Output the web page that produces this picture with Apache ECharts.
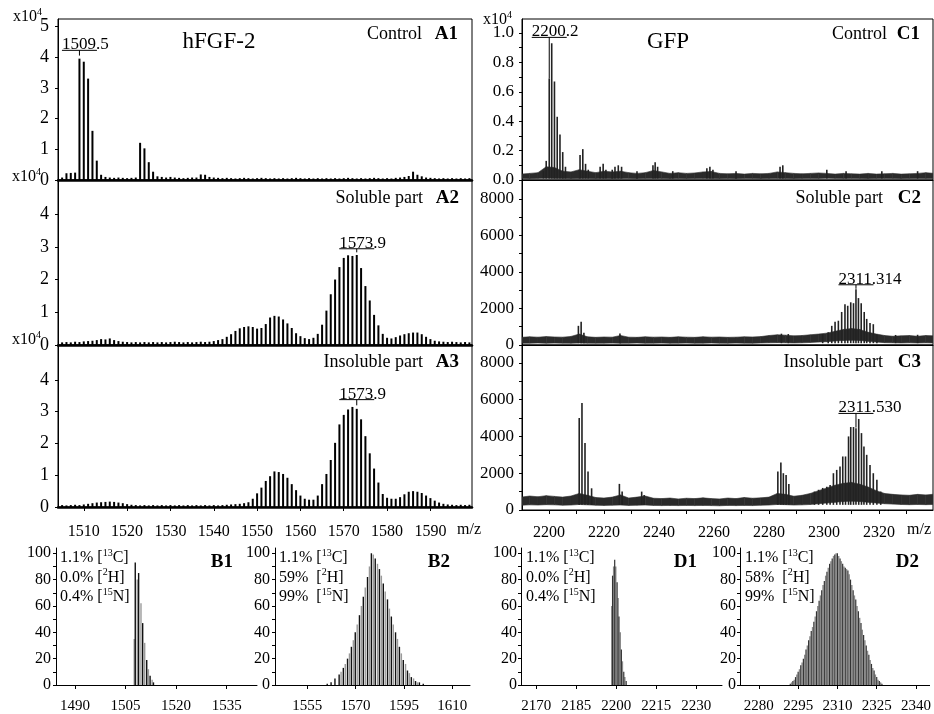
<!DOCTYPE html>
<html>
<head>
<meta charset="utf-8">
<script src="https://cdn.jsdelivr.net/npm/echarts@6/dist/echarts.min.js"></script>
<style>
  html, body { margin: 0; padding: 0; background: #fff; }
  #chart { width: 934px; height: 714px; }
</style>
</head>
<body>
<div id="chart"></div>
<script>
const FONT = '"Liberation Serif", "Times New Roman", serif';

// hFGF-2 spectra, intensity x10^4, one stick per m/z unit starting at aStartMz
const aStartMz = 1504;
const a1Control = [
  0.06, 0.08, 0.22, 0.23, 0.24, 3.95, 3.85, 3.30, 1.60, 0.63,
  0.17, 0.10, 0.08, 0.07, 0.08, 0.07, 0.06, 0.07, 0.08, 1.21,
  1.03, 0.58, 0.27, 0.12, 0.10, 0.08, 0.10, 0.08, 0.07, 0.06,
  0.07, 0.08, 0.08, 0.18, 0.17, 0.10, 0.08, 0.07, 0.06, 0.07,
  0.06, 0.05, 0.06, 0.07, 0.06, 0.05, 0.06, 0.07, 0.06, 0.05,
  0.06, 0.05, 0.06, 0.05, 0.06, 0.07, 0.06, 0.05, 0.06, 0.05,
  0.06, 0.05, 0.06, 0.05, 0.06, 0.05, 0.06, 0.07, 0.06, 0.05,
  0.06, 0.05, 0.06, 0.07, 0.06, 0.05, 0.06, 0.05, 0.07, 0.08,
  0.10, 0.13, 0.27, 0.17, 0.12, 0.08, 0.07, 0.06, 0.05, 0.06,
  0.05, 0.06, 0.05, 0.06, 0.05, 0.06
];
const a2Soluble = [
  0.09, 0.08, 0.09, 0.08, 0.10, 0.09, 0.11, 0.12, 0.13, 0.15,
  0.18, 0.17, 0.20, 0.15, 0.12, 0.10, 0.09, 0.08, 0.09, 0.08,
  0.09, 0.08, 0.09, 0.08, 0.09, 0.08, 0.09, 0.10, 0.09, 0.08,
  0.09, 0.08, 0.09, 0.10, 0.09, 0.10, 0.12, 0.15, 0.18, 0.25,
  0.33, 0.43, 0.51, 0.55, 0.57, 0.55, 0.50, 0.52, 0.64, 0.84,
  0.89, 0.87, 0.78, 0.66, 0.52, 0.36, 0.27, 0.21, 0.18, 0.22,
  0.34, 0.62, 1.05, 1.55, 2.00, 2.38, 2.66, 2.74, 2.72, 2.75,
  2.35, 1.80, 1.36, 0.92, 0.60, 0.34, 0.22, 0.20, 0.24, 0.29,
  0.33, 0.36, 0.38, 0.38, 0.33, 0.25, 0.18, 0.13, 0.11, 0.10,
  0.09, 0.10, 0.09, 0.08, 0.09, 0.08
];
const a3Insoluble = [
  0.05, 0.06, 0.05, 0.06, 0.07, 0.06, 0.08, 0.10, 0.12, 0.14,
  0.15, 0.16, 0.17, 0.16, 0.14, 0.12, 0.09, 0.07, 0.06, 0.05,
  0.06, 0.05, 0.06, 0.05, 0.06, 0.05, 0.06, 0.05, 0.06, 0.05,
  0.06, 0.05, 0.06, 0.05, 0.06, 0.05, 0.06, 0.05, 0.06, 0.07,
  0.08, 0.09, 0.10, 0.12, 0.15, 0.26, 0.43, 0.61, 0.82, 0.97,
  1.12, 1.10, 1.04, 0.92, 0.72, 0.53, 0.36, 0.26, 0.23, 0.23,
  0.36, 0.72, 1.04, 1.48, 2.02, 2.60, 2.90, 3.07, 3.15, 3.09,
  2.76, 2.23, 1.69, 1.21, 0.77, 0.41, 0.29, 0.26, 0.26, 0.31,
  0.40, 0.48, 0.50, 0.48, 0.44, 0.36, 0.28, 0.20, 0.14, 0.10,
  0.08, 0.07, 0.06, 0.07, 0.06, 0.07
];
const aXTicks = [1510, 1520, 1530, 1540, 1550, 1560, 1570, 1580, 1590];

// GFP spectra: noise band (lower/upper edge) and peak sticks
const cBandMz = [
  2190, 2193, 2196, 2199, 2202, 2205, 2208, 2211, 2214, 2217,
  2220, 2223, 2226, 2229, 2232, 2235, 2238, 2241, 2244, 2247,
  2250, 2253, 2256, 2259, 2262, 2265, 2268, 2271, 2274, 2277,
  2280, 2283, 2286, 2289, 2292, 2295, 2298, 2301, 2304, 2307,
  2310, 2313, 2316, 2319, 2322, 2325, 2328, 2331, 2334, 2337,
  2340
];
const c1Lower = [
  0.010, 0.009, 0.011, 0.012, 0.011, 0.010, 0.009, 0.010, 0.011, 0.009,
  0.010, 0.009, 0.010, 0.011, 0.009, 0.010, 0.011, 0.010, 0.009, 0.010,
  0.009, 0.010, 0.011, 0.010, 0.009, 0.010, 0.009, 0.011, 0.010, 0.009,
  0.010, 0.011, 0.010, 0.009, 0.010, 0.011, 0.010, 0.012, 0.011, 0.010,
  0.011, 0.010, 0.009, 0.010, 0.011, 0.010, 0.009, 0.010, 0.011, 0.010,
  0.010
];
const c1Upper = [
  0.040, 0.045, 0.050, 0.090, 0.085, 0.060, 0.055, 0.070, 0.060, 0.050,
  0.060, 0.055, 0.060, 0.050, 0.045, 0.050, 0.065, 0.055, 0.045, 0.050,
  0.045, 0.048, 0.055, 0.058, 0.045, 0.042, 0.045, 0.040, 0.045, 0.042,
  0.045, 0.055, 0.050, 0.045, 0.042, 0.045, 0.048, 0.045, 0.040, 0.045,
  0.042, 0.040, 0.045, 0.040, 0.042, 0.045, 0.040, 0.042, 0.045, 0.050,
  0.045
];
const c2Lower = [
  90, 100, 110, 95, 105, 100, 95, 110, 100, 95,
  100, 105, 95, 100, 110, 95, 100, 105, 95, 100,
  105, 95, 100, 110, 100, 95, 105, 100, 95, 110,
  120, 130, 120, 110, 120, 140, 160, 180, 220, 250,
  260, 250, 200, 160, 130, 120, 110, 120, 110, 120,
  110
];
const c2Upper = [
  420, 450, 430, 460, 440, 430, 470, 600, 450, 420,
  440, 430, 520, 430, 420, 450, 430, 440, 420, 450,
  430, 420, 450, 430, 440, 420, 430, 450, 440, 460,
  520, 560, 540, 500, 520, 560, 600, 650, 750, 850,
  900, 850, 700, 600, 520, 480, 500, 520, 480, 520,
  500
];
const c3Lower = [
  260, 280, 270, 290, 280, 260, 270, 300, 280, 260,
  250, 260, 270, 250, 260, 270, 250, 240, 250, 240,
  250, 240, 250, 240, 230, 250, 240, 250, 240, 260,
  270, 300, 290, 270, 280, 300, 340, 380, 420, 460,
  480, 460, 420, 380, 340, 320, 300, 290, 300, 290,
  300
];
const c3Upper = [
  700, 760, 720, 780, 740, 700, 760, 900, 800, 680,
  650, 700, 820, 650, 700, 760, 640, 620, 650, 600,
  640, 620, 660, 620, 600, 650, 620, 680, 640, 660,
  700, 900, 850, 750, 800, 900, 1050, 1200, 1350, 1450,
  1500, 1400, 1250, 1050, 900, 850, 820, 800, 850, 820,
  860
];
const c1PeakMz = [2198, 2199, 2200.1, 2201, 2202, 2203, 2204, 2205, 2206,
  2211.3, 2212.3, 2213.3, 2214.3, 2218.6, 2219.7, 2220.7, 2223, 2224, 2225.2, 2226.4,
  2232, 2237.8, 2238.6, 2239.5, 2245, 2257.4, 2258.5, 2259.6, 2268, 2284, 2285,
  2301, 2308, 2321, 2334];
const c1PeakInt = [0.06, 0.13, 0.69, 0.93, 0.67, 0.43, 0.31, 0.19, 0.09,
  0.17, 0.21, 0.11, 0.07, 0.09, 0.11, 0.07, 0.07, 0.09, 0.10, 0.09,
  0.06, 0.10, 0.12, 0.09, 0.06, 0.08, 0.09, 0.07, 0.06, 0.09, 0.10,
  0.07, 0.06, 0.06, 0.06];
const c2PeakMz = [2210.7, 2211.7, 2212.7, 2225.8, 2284.5, 2287, 2299.5, 2301.5,
  2302.8, 2304, 2305.2, 2306.4, 2307.6, 2308.6, 2309.7, 2310.7, 2311.6, 2312.5,
  2313.5, 2314.6, 2315.5, 2316.7, 2317.9, 2319.2, 2326, 2334];
const c2PeakInt = [1050, 1280, 670, 630, 620, 600, 600, 700,
  1050, 1280, 1330, 1810, 2230, 2150, 2340, 2290, 3050, 2570,
  2290, 1810, 1430, 1200, 1140, 570, 550, 560];
const c3PeakMz = [2211.0, 2212.0, 2213.1, 2214.2, 2215.5, 2225.6, 2226.6, 2233.7, 2234.6,
  2283.2, 2284.3, 2285.2, 2286.2, 2287.2, 2296.5, 2298.0, 2299.5,
  2301.0, 2302.2, 2303.4, 2304.6, 2305.8, 2306.8, 2307.8, 2308.9, 2309.7, 2310.7,
  2311.6, 2312.6, 2313.6, 2314.5, 2315.5, 2316.7, 2317.9, 2319.2, 2320.6];
const c3PeakInt = [5000, 5820, 3640, 2090, 1180, 1420, 1000, 1000, 820,
  2090, 2580, 2000, 1900, 1420, 1000, 1100, 1200,
  1270, 1360, 2000, 2180, 2360, 2910, 2910, 4000, 4510, 4510,
  4450, 4950, 4180, 3450, 3000, 2450, 2000, 1640, 1000];
const cXLabels = [2200, 2220, 2240, 2260, 2280, 2300, 2320];
const cXTicks = [2200, 2210, 2220, 2230, 2240, 2250, 2260, 2270, 2280, 2290, 2300, 2310, 2320, 2330];

// simulated isotope patterns (%), black and grey traces
const b1BlackMz = [1507.9, 1508.9, 1510.1, 1511.3, 1512.3, 1513.3];
const b1BlackInt = [93, 85, 47, 19, 7, 2];
const b1GreyMz = [1507.6, 1508.5, 1509.6, 1510.7, 1511.8, 1512.9];
const b1GreyInt = [35, 80, 62, 32, 12, 4];
const b2BlackMz = [1561.2, 1562.4, 1563.6, 1564.9, 1566.2, 1567.5, 1568.7, 1569.9, 1571.2, 1572.4,
  1573.7, 1574.9, 1576.1, 1577.4, 1578.6, 1579.9, 1581.1, 1582.4, 1583.6, 1584.8,
  1586.1, 1587.3, 1588.6, 1589.8, 1591.0];
const b2BlackInt = [1, 2, 5, 8, 13, 20, 29, 40, 53, 67, 82, 100, 96, 88, 77, 65, 52, 40, 29, 19, 11, 6, 3, 2, 1];
const b2GreyMz = [1565.5, 1566.8, 1568.1, 1569.3, 1570.5, 1571.8, 1573.0, 1574.3, 1575.5, 1576.8,
  1578.0, 1579.2, 1580.5, 1581.7, 1583.0, 1584.2, 1585.5, 1586.7, 1588.0, 1589.2];
const b2GreyInt = [10, 16, 24, 34, 46, 60, 74, 90, 99, 92, 83, 71, 58, 46, 35, 24, 16, 9, 5, 2];
const d1BlackMz = [2198.6, 2199.4, 2200.3, 2201.0, 2201.9, 2202.8, 2203.7];
const d1BlackInt = [83, 95, 78, 52, 27, 10, 3];
const d1GreyMz = [2198.3, 2199.0, 2199.8, 2200.7, 2201.5, 2202.3, 2203.2];
const d1GreyInt = [60, 90, 90, 66, 40, 18, 6];
const d2StartMz = 2292;
const d2BlackInt = [1, 3, 6, 10, 15, 20, 27, 34, 41, 48, 56, 64, 72, 79, 86, 92, 96, 99, 100, 96,
  92, 89, 87, 80, 72, 65, 56, 47, 38, 30, 23, 16, 11, 6, 3, 1];
const d2GreyInt = [2, 4, 8, 12, 17, 23, 30, 37, 44, 52, 60, 68, 76, 83, 89, 94, 98, 100, 98, 94,
  90, 88, 84, 76, 68, 60, 51, 42, 34, 26, 19, 13, 8, 4, 2];

const b1XTicks = [1490, 1505, 1520, 1535];
const b2XTicks = [1555, 1570, 1585, 1600];
const b2XText = ['1555', '1570', '1595', '1610'];
const d1XTicks = [2170, 2185, 2200, 2215, 2230];
const d2XTicks = [2280, 2295, 2310, 2325, 2340];
const pctTicks = [0, 20, 40, 60, 80, 100];

const aMz = a1Control.map((_, i) => aStartMz + i);
const d2BlackMz = d2BlackInt.map((_, i) => d2StartMz + i);
const d2GreyMz = d2GreyInt.map((_, i) => d2StartMz + i + 0.5);

const grids = [
  { left: 58, top: 19, width: 414, height: 161 },
  { left: 58, top: 180, width: 414, height: 165 },
  { left: 58, top: 345, width: 414, height: 162 },
  { left: 522, top: 19, width: 411, height: 161 },
  { left: 522, top: 180, width: 411, height: 165 },
  { left: 522, top: 345, width: 411, height: 165 },
  { left: 56, top: 548, width: 201, height: 137 },
  { left: 275, top: 548, width: 195, height: 137 },
  { left: 521, top: 548, width: 201, height: 137 },
  { left: 740, top: 548, width: 193, height: 137 }
].map((g, i) => Object.assign(g, i < 6
  ? { show: true, borderColor: '#000', borderWidth: 1, backgroundColor: 'transparent' }
  : { show: false }));

const line = { show: true, lineStyle: { color: '#000', width: 1 } };
const thickLine = { show: true, lineStyle: { color: '#000', width: 2.5 } };

function xAxis(i, min, max, ticks, labels, size, margin, fmt) {
  return {
    type: 'value', gridIndex: i, min, max,
    axisLine: line, splitLine: { show: false },
    axisTick: ticks ? { show: true, customValues: ticks, length: 4, lineStyle: { color: '#000' } } : { show: false },
    axisLabel: labels ? {
      show: true, customValues: labels, color: '#000', fontFamily: FONT, fontSize: size, margin,
      formatter: fmt || (v => String(v))
    } : { show: false }
  };
}

function yAxis(i, max, ticks, labels, size, margin, fmt) {
  return {
    type: 'value', gridIndex: i, min: 0, max,
    axisLine: line, splitLine: { show: false },
    axisTick: { show: true, customValues: ticks, length: 3, lineStyle: { color: '#000' } },
    axisLabel: {
      show: true, customValues: labels, color: '#000', fontFamily: FONT, fontSize: size, margin,
      formatter: fmt || (v => String(v))
    }
  };
}

const xAxes = [
  xAxis(0, 1504.05, 1599.6, null, null),
  xAxis(1, 1504.05, 1599.6, null, null),
  xAxis(2, 1504.05, 1599.6, aXTicks, aXTicks, 16, 17),
  xAxis(3, 2190.2, 2339.6, null, null),
  xAxis(4, 2190.2, 2339.6, null, null),
  xAxis(5, 2190.2, 2339.6, cXTicks, cXLabels, 16, 15),
  xAxis(6, 1484.4, 1544, b1XTicks, b1XTicks, 15, 14),
  xAxis(7, 1545, 1605.5, b2XTicks, b2XTicks, 15, 14, v => b2XText[b2XTicks.indexOf(v)]),
  xAxis(8, 2164.3, 2239.6, d1XTicks, d1XTicks, 15, 14),
  xAxis(9, 2272.8, 2345.2, d2XTicks, d2XTicks, 15, 14)
];
[0, 1, 2].forEach(i => { xAxes[i].axisLine = thickLine; });

const yAxes = [
  yAxis(0, 5.24, [0, 1, 2, 3, 4, 5], [0, 1, 2, 3, 4, 5], 18, 9),
  yAxis(1, 5.04, [0, 1, 2, 3, 4], [0, 1, 2, 3, 4], 18, 9),
  yAxis(2, 5.1, [0, 1, 2, 3, 4], [0, 1, 2, 3, 4], 18, 9),
  yAxis(3, 1.095, [0, 0.1, 0.2, 0.3, 0.4, 0.5, 0.6, 0.7, 0.8, 0.9, 1.0],
    [0, 0.2, 0.4, 0.6, 0.8, 1.0], 17, 8, v => v.toFixed(1)),
  yAxis(4, 9040, [0, 1000, 2000, 3000, 4000, 5000, 6000, 7000, 8000],
    [0, 2000, 4000, 6000, 8000], 17, 8),
  yAxis(5, 8970, [0, 1000, 2000, 3000, 4000, 5000, 6000, 7000, 8000],
    [0, 2000, 4000, 6000, 8000], 17, 8),
  yAxis(6, 104, [0, 10, 20, 30, 40, 50, 60, 70, 80, 90, 100], pctTicks, 16, 5),
  yAxis(7, 104, [0, 10, 20, 30, 40, 50, 60, 70, 80, 90, 100], pctTicks, 16, 5),
  yAxis(8, 104, [0, 10, 20, 30, 40, 50, 60, 70, 80, 90, 100], pctTicks, 16, 4),
  yAxis(9, 104, [0, 10, 20, 30, 40, 50, 60, 70, 80, 90, 100], pctTicks, 16, 4)
];

// vertical sticks from base to value
function sticks(i, xs, ys, base, color, width) {
  return {
    type: 'custom', xAxisIndex: i, yAxisIndex: i, clip: true, silent: true, z: 3,
    data: xs.map((x, k) => [x, ys[k]]),
    renderItem: (params, api) => {
      const p0 = api.coord([api.value(0), base]);
      const p1 = api.coord([api.value(0), api.value(1)]);
      return {
        type: 'line',
        shape: { x1: p0[0], y1: p0[1], x2: p1[0], y2: p1[1] },
        style: { stroke: color, lineWidth: width }
      };
    }
  };
}

// filled noise band between lower and upper edges
function band(i, xs, lower, upper, color) {
  return {
    type: 'custom', xAxisIndex: i, yAxisIndex: i, clip: true, silent: true, z: 2,
    data: xs.map((x, k) => [x, lower[k], upper[k]]),
    renderItem: (params, api) => {
      const k = params.dataIndex;
      if (k >= xs.length - 1) return null;
      const pts = [
        api.coord([xs[k], lower[k]]), api.coord([xs[k + 1], lower[k + 1]]),
        api.coord([xs[k + 1], upper[k + 1]]), api.coord([xs[k], upper[k]])
      ];
      return { type: 'polygon', shape: { points: pts }, style: { fill: color, stroke: color, lineWidth: 0.6 } };
    }
  };
}

const series = [
  sticks(0, aMz, a1Control, 0, '#000', 2),
  sticks(1, aMz, a2Soluble, 0, '#000', 2),
  sticks(2, aMz, a3Insoluble, 0, '#000', 2),
  band(3, cBandMz, c1Lower, c1Upper, '#2b2b2b'),
  band(4, cBandMz, c2Lower, c2Upper, '#2b2b2b'),
  band(5, cBandMz, c3Lower, c3Upper, '#2b2b2b'),
  sticks(3, c1PeakMz, c1PeakInt, 0.01, '#222', 1.6),
  sticks(4, c2PeakMz, c2PeakInt, 100, '#222', 1.6),
  sticks(5, c3PeakMz, c3PeakInt, 280, '#222', 1.6),
  sticks(6, b1GreyMz, b1GreyInt, 0, '#9a9a9a', 1.4),
  sticks(6, b1BlackMz, b1BlackInt, 0, '#111', 1.4),
  sticks(7, b2GreyMz, b2GreyInt, 0, '#9a9a9a', 1.4),
  sticks(7, b2BlackMz, b2BlackInt, 0, '#111', 1.4),
  sticks(8, d1GreyMz, d1GreyInt, 0, '#8a8a8a', 1.4),
  sticks(8, d1BlackMz, d1BlackInt, 0, '#333', 1.2),
  sticks(9, d2GreyMz, d2GreyInt, 0, '#8a8a8a', 1.4),
  sticks(9, d2BlackMz, d2BlackInt, 0, '#333', 1.2)
];

const chart = echarts.init(document.getElementById('chart'));
chart.setOption({
  animation: false,
  backgroundColor: '#fff',
  grid: grids,
  xAxis: xAxes,
  yAxis: yAxes,
  series
});

// ---- text and peak annotations ----
const txt = (x, y, text, size, align, bold, extra) => ({
  type: 'text', x, y, z: 10, silent: true,
  style: Object.assign({
    text, fill: '#000', textAlign: align || 'left', textVerticalAlign: 'middle',
    font: (bold ? 'bold ' : '') + size + 'px ' + FONT
  }, extra || {})
});
const supRich = {
  n: { fontSize: 16, fontFamily: FONT, lineHeight: 20, fill: '#000' },
  s: { fontSize: 10, fontFamily: FONT, lineHeight: 12, verticalAlign: 'top', fill: '#000' }
};
const sup = (x, y, text, align) => txt(x, y, text, 16, align, false, { rich: supRich });

const graphics = [
  sup(42, 17, '{n|x10}{s|4}', 'right'),
  sup(41, 177, '{n|x10}{s|4}', 'right'),
  sup(41, 340, '{n|x10}{s|4}', 'right'),
  sup(512, 20, '{n|x10}{s|4}', 'right'),
  txt(219, 42, 'hFGF-2', 23, 'center'),
  txt(668, 42, 'GFP', 23, 'center'),
  txt(422, 34, 'Control', 18, 'right'),
  txt(458, 34, 'A1', 19, 'right', true),
  txt(423, 198, 'Soluble part', 18, 'right'),
  txt(459, 198, 'A2', 19, 'right', true),
  txt(423, 362, 'Insoluble part', 18, 'right'),
  txt(459, 362, 'A3', 19, 'right', true),
  txt(887, 34, 'Control', 18, 'right'),
  txt(920, 34, 'C1', 19, 'right', true),
  txt(883, 198, 'Soluble part', 18, 'right'),
  txt(921, 198, 'C2', 19, 'right', true),
  txt(883, 362, 'Insoluble part', 18, 'right'),
  txt(921, 362, 'C3', 19, 'right', true),
  txt(457, 530, 'm/z', 16, 'left'),
  txt(907, 530, 'm/z', 16, 'left'),
  txt(233, 562, 'B1', 19, 'right', true),
  txt(450, 562, 'B2', 19, 'right', true),
  txt(697, 562, 'D1', 19, 'right', true),
  txt(919, 562, 'D2', 19, 'right', true)
];

const isoText = [
  [60, ['1.1% [', '13', 'C]'], ['0.0% [', '2', 'H]'], ['0.4% [', '15', 'N]']],
  [279, ['1.1% [', '13', 'C]'], ['59%  [', '2', 'H]'], ['99%  [', '15', 'N]']],
  [526, ['1.1% [', '13', 'C]'], ['0.0% [', '2', 'H]'], ['0.4% [', '15', 'N]']],
  [745, ['1.1% [', '13', 'C]'], ['58%  [', '2', 'H]'], ['99%  [', '15', 'N]']]
];
isoText.forEach(([x, ...rows]) => {
  rows.forEach((r, k) => {
    graphics.push(sup(x, 558 + k * 19.5, '{n|' + r[0] + '}{s|' + r[1] + '}{n|' + r[2] + '}', 'left'));
  });
});

// [panel, peak m/z, label level, tick end, underlined part, rest]
const peakLabels = [
  [0, 1509, 4.22, 4.05, '1509', '.5'],
  [1, 1573, 2.94, 2.83, '1573', '.9'],
  [2, 1573, 3.38, 3.2, '1573', '.9'],
  [3, 2200.1, 0.97, 0.69, '2200', '.2'],
  [4, 2311.6, 3300, 3080, '2311', '.314'],
  [5, 2311.6, 5250, 4480, '2311', '.530']
];
peakLabels.forEach(([g, mz, level, tickTo, main, rest]) => {
  const p = chart.convertToPixel({ gridIndex: g }, [mz, level]);
  const q = chart.convertToPixel({ gridIndex: g }, [mz, tickTo]);
  const half = 17.5;
  graphics.push({
    type: 'line', z: 10, silent: true,
    shape: { x1: p[0] - half, y1: p[1], x2: p[0] + half, y2: p[1] },
    style: { stroke: '#000', lineWidth: 1 }
  });
  graphics.push({
    type: 'line', z: 10, silent: true,
    shape: { x1: p[0], y1: p[1], x2: p[0], y2: q[1] },
    style: { stroke: '#000', lineWidth: 1 }
  });
  graphics.push({
    type: 'text', x: p[0] - half, y: p[1] + 3, z: 10, silent: true,
    style: {
      text: main + rest, fill: '#000', font: '17px ' + FONT,
      textAlign: 'left', textVerticalAlign: 'bottom'
    }
  });
});

chart.setOption({ graphic: graphics });
</script>
</body>
</html>
